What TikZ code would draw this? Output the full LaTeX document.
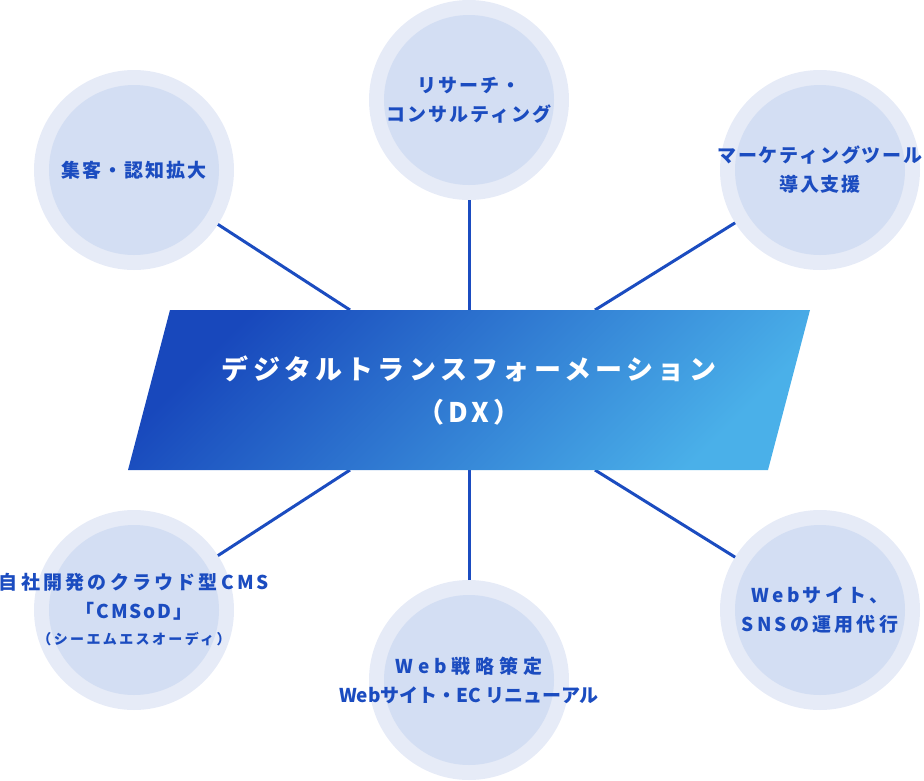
\documentclass[tikz,border=0pt]{standalone}
\usepackage{fontspec}
\setmainfont{Noto Sans CJK JP}
\newfontfamily\jpwide[LetterSpace=10]{Noto Sans CJK JP}
\newfontfamily\jpmid[LetterSpace=17]{Noto Sans CJK JP}
\newfontfamily\jpwider[LetterSpace=25]{Noto Sans CJK JP}
\newfontfamily\jptitle[LetterSpace=16]{Noto Sans CJK JP}
\definecolor{ringout}{HTML}{E6EBF7}
\definecolor{ringin}{HTML}{D3DEF3}
\definecolor{spokeblue}{HTML}{1B4CC0}
\definecolor{dxdark}{HTML}{1848BC}
\definecolor{dxlight}{HTML}{4AB0E9}
\begin{document}
\begin{tikzpicture}[x=1pt,y=-1pt,
    ring/.style={circle,fill=ringout,minimum size=200pt,inner sep=0pt,outer sep=0pt},
    core/.style={circle,fill=ringin,minimum size=170pt,inner sep=0pt},
    caption/.style={align=center,text=spokeblue,inner sep=0pt,
      font=\jpwide\bfseries\fontsize{19}{29}\selectfont},
    spoke/.style={spokeblue,line width=3pt}]
    \useasboundingbox (0,0) rectangle (924,780);
    % outer rings
    \node[ring] (promo) at (134,170) {};
    \node[ring] (research) at (469,100) {};
    \node[ring] (mktg) at (820,170) {};
    \node[ring] (cmsod) at (134,610) {};
    \node[ring] (webstr) at (469,680) {};
    \node[ring] (sns) at (820,610) {};
    % attach points on the parallelogram
    \coordinate (dxtl) at (350,310);
    \coordinate (dxtm) at (469,310);
    \coordinate (dxtr) at (595,310);
    \coordinate (dxbl) at (350,470);
    \coordinate (dxbm) at (469,470);
    \coordinate (dxbr) at (595,470);
    \draw[spoke] (promo) -- (dxtl);
    \draw[spoke] (research) -- (dxtm);
    \draw[spoke] (mktg) -- (dxtr);
    \draw[spoke] (cmsod) -- (dxbl);
    \draw[spoke] (webstr) -- (dxbm);
    \draw[spoke] (sns) -- (dxbr);
    % inner discs
    \foreach \c in {promo,research,mktg,cmsod,webstr,sns}
      \node[core] (\c-in) at (\c) {};
    % labels
    \node[caption] (promo-txt) at (promo) {集客・認知拡大};
    \node[caption] (research-txt) at (research) {リサーチ・\\コンサルティング};
    \node[caption] (mktg-txt) at (mktg) {マーケティングツール\\導入支援};
    \node[caption] (cmsod-txt) at (cmsod) {{\jpmid 自社開発のクラウド型CMS}\\「CMSoD」\\[-3pt]
      {\jpmid\bfseries\fontsize{14}{20}\selectfont（シーエムエスオーディ）}};
    \node[caption] (webstr-txt) at (webstr) {{\jpwider Web戦略策定}\\{\rmfamily\bfseries Webサイト・EC リニューアル}};
    \node[caption] (sns-txt) at (sns) {{\jpmid Webサイト、}\\{\jpmid SNSの運用代行}};
    % centre
    \shade[left color=dxdark,right color=dxlight,shading angle=45]
      (170,310) -- (810,310) -- (768,470) -- (128,470) -- cycle;
    \node[align=center,text=white,font=\jptitle\bfseries\fontsize{27}{43}\selectfont] (dx) at (469,391)
      {デジタルトランスフォーメーション\\（DX）};
\end{tikzpicture}
\end{document}
